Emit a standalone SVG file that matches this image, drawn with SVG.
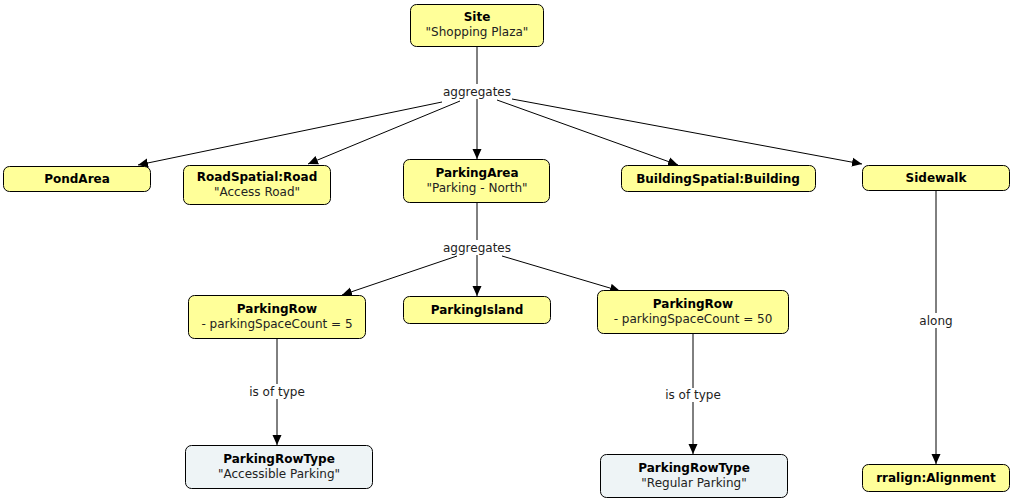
<svg xmlns="http://www.w3.org/2000/svg" width="1013" height="499" viewBox="0 0 1013 499">
<style>
text{font-family:Verdana,"DejaVu Sans",sans-serif;font-size:12px;fill:#222;text-anchor:middle}
.t{font-weight:bold;fill:#000}
.n{fill:#ffff99;stroke:#000;stroke-width:1}
.b{fill:#eef4f6;stroke:#000;stroke-width:1}
.e{stroke:#000;stroke-width:1;fill:none;marker-end:url(#ah)}
.l{fill:none;stroke:#000;stroke-width:1}
.bg{fill:#fff}
</style>
<defs>
<marker id="ah" viewBox="0 0 10 10" refX="10" refY="5" markerWidth="10" markerHeight="10" markerUnits="userSpaceOnUse" orient="auto">
<path d="M0,0.5 L10,5 L0,9.5 Z" fill="#000"/>
</marker>
</defs>
<g id="connectors">
<line class="l" x1="477" y1="46" x2="477" y2="86"/>
<line class="e" x1="477" y1="99" x2="477" y2="159"/>
<line class="e" x1="442" y1="102" x2="138" y2="165"/>
<line class="e" x1="460" y1="101" x2="308" y2="164"/>
<line class="e" x1="497" y1="100" x2="678" y2="165"/>
<line class="e" x1="512" y1="99" x2="862" y2="164"/>
<rect class="bg" x="441" y="84" width="71" height="15"/>
<text x="477" y="96">aggregates</text>
<line class="l" x1="477" y1="203" x2="477" y2="241"/>
<line class="e" x1="477" y1="255" x2="477" y2="296"/>
<line class="e" x1="457" y1="256" x2="342" y2="295"/>
<line class="e" x1="502" y1="256" x2="620" y2="291"/>
<rect class="bg" x="441" y="240" width="71" height="15"/>
<text x="477" y="252">aggregates</text>
<line class="l" x1="277" y1="338" x2="277" y2="384"/>
<line class="e" x1="277" y1="399" x2="277" y2="445"/>
<text x="277" y="396">is of type</text>
<line class="l" x1="693" y1="333" x2="693" y2="388"/>
<line class="e" x1="693" y1="402" x2="693" y2="454"/>
<text x="693" y="399">is of type</text>
<line class="l" x1="936" y1="191" x2="936" y2="313"/>
<line class="e" x1="936" y1="328" x2="936" y2="464"/>
<text x="936" y="325">along</text>
</g>
<g id="site"><rect class="n" x="410.5" y="4.5" width="133" height="42" rx="6"/><text class="t" x="477" y="21">Site</text><text x="477" y="36">"Shopping Plaza"</text></g>
<g id="pondarea"><rect class="n" x="3.5" y="166.5" width="147" height="25" rx="6"/><text class="t" x="77" y="183">PondArea</text></g>
<g id="road"><rect class="n" x="183.5" y="165.5" width="147" height="39" rx="6"/><text class="t" x="257" y="181">RoadSpatial:Road</text><text x="257" y="196">"Access Road"</text></g>
<g id="parkingarea"><rect class="n" x="403.5" y="159.5" width="146" height="43" rx="6"/><text class="t" x="477" y="177">ParkingArea</text><text x="477" y="192">"Parking - North"</text></g>
<g id="building"><rect class="n" x="621.5" y="165.5" width="194" height="26" rx="6"/><text class="t" x="718" y="183">BuildingSpatial:Building</text></g>
<g id="sidewalk"><rect class="n" x="862.5" y="165.5" width="147" height="25" rx="6"/><text class="t" x="936" y="182">Sidewalk</text></g>
<g id="alignment"><rect class="n" x="862.5" y="464.5" width="147" height="27" rx="6"/><text class="t" x="936" y="482">rralign:Alignment</text></g>
<g id="parkingrow5"><rect class="n" x="188.5" y="295.5" width="177" height="43" rx="6"/><text class="t" x="277" y="313">ParkingRow</text><text x="277" y="328">- parkingSpaceCount = 5</text></g>
<g id="parkingisland"><rect class="n" x="403.5" y="296.5" width="147" height="27" rx="6"/><text class="t" x="477" y="314">ParkingIsland</text></g>
<g id="parkingrow50"><rect class="n" x="597.5" y="290.5" width="191" height="43" rx="6"/><text class="t" x="693" y="308">ParkingRow</text><text x="693" y="323">- parkingSpaceCount = 50</text></g>
<g id="type-accessible"><rect class="b" x="185.5" y="445.5" width="187" height="43" rx="6"/><text class="t" x="279" y="463">ParkingRowType</text><text x="279" y="478">"Accessible Parking"</text></g>
<g id="type-regular"><rect class="b" x="600.5" y="454.5" width="187" height="43" rx="6"/><text class="t" x="694" y="472">ParkingRowType</text><text x="694" y="487">"Regular Parking"</text></g>
</svg>
